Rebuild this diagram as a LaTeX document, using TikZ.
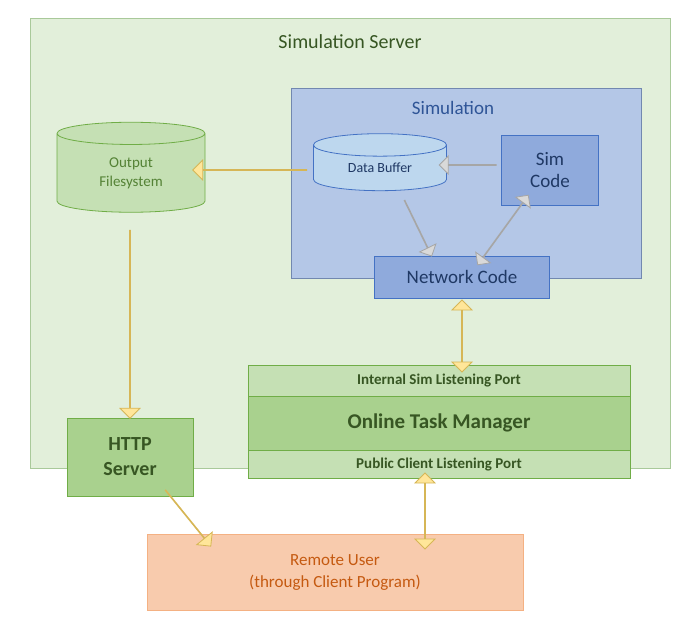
\documentclass[tikz,border=0pt]{standalone}
\usepackage{fontspec}
\setmainfont{Carlito}
\usetikzlibrary{shapes.geometric,shapes.arrows}
\definecolor{srvfill}{HTML}{E2EFDA}\definecolor{srvdraw}{HTML}{A9C99A}
\definecolor{dgreen}{HTML}{375623}\definecolor{mgreen}{HTML}{548235}
\definecolor{lgreen}{HTML}{C5E0B4}\definecolor{ggreen}{HTML}{A9D18E}\definecolor{bgreen}{HTML}{70AD47}
\definecolor{simfill}{HTML}{B4C7E7}\definecolor{simdraw}{HTML}{8FAADC}
\definecolor{bfill}{HTML}{8FAADC}\definecolor{bdraw}{HTML}{4472C4}\definecolor{dblue}{HTML}{2F5597}\definecolor{nblue}{HTML}{1F3864}
\definecolor{dbfill}{HTML}{BDD7EE}
\definecolor{yfill}{HTML}{FFE699}\definecolor{ydraw}{HTML}{D6B656}
\definecolor{gfill}{HTML}{D9D9D9}\definecolor{gdraw}{HTML}{A6A6A6}
\definecolor{ofill}{HTML}{F8CBAD}\definecolor{odraw}{HTML}{F4B183}\definecolor{otext}{HTML}{C55A11}
\tikzset{
 box/.style={draw, line width=0.8pt, inner sep=0pt},
 cyl/.style={cylinder, shape border rotate=90, aspect=0.35, draw, line width=0.8pt, inner sep=0pt},
 ya/.style={single arrow, draw=ydraw, fill=yfill, line width=0.8pt, minimum width=20pt, single arrow head extend=9pt, single arrow head indent=0pt, inner sep=0pt},
 yd/.style={double arrow, draw=ydraw, fill=yfill, line width=0.8pt, minimum width=20pt, double arrow head extend=9pt, inner sep=0pt},
 ga/.style={single arrow, draw=gdraw, fill=gfill, line width=0.8pt, minimum width=18pt, single arrow head extend=8pt, inner sep=0pt},
 gd/.style={double arrow, draw=gdraw, fill=gfill, line width=0.8pt, minimum width=18pt, double arrow head extend=8pt, inner sep=0pt},
}
\begin{document}
\begin{tikzpicture}[x=1pt,y=-1pt]
\useasboundingbox (0,0) rectangle (698,638);
\node[box, draw=srvdraw, fill=srvfill, minimum width=640pt, minimum height=450pt] (srv) at (350,243) {};
\node[text=dgreen, font=\fontsize{20}{24}\selectfont] (srvt) at (350,42) {Simulation Server};
\node[box, draw=simdraw!80!black, fill=simfill, minimum width=350pt, minimum height=190pt] (sim) at (466,183) {};
\node[text=dblue, font=\fontsize{19}{23}\selectfont] (simt) at (453,108) {Simulation};
\node[cyl, draw=bdraw, fill=dbfill, minimum width=133pt, minimum height=57pt, font=\fontsize{14}{17}\selectfont, text=nblue] (db) at (380,168) {Data Buffer};
\node[box, draw=bdraw, fill=bfill, minimum width=97pt, minimum height=70pt, align=center, text=nblue, font=\fontsize{19}{22}\selectfont] (sc) at (550,170) {Sim\\Code};
\node[box, draw=bdraw, fill=bfill, minimum width=175pt, minimum height=42pt, text=nblue, font=\fontsize{19}{23}\selectfont] (nc) at (462,277) {Network Code};
\node[cyl, draw=bgreen, fill=lgreen, minimum width=148pt, minimum height=90pt, align=center, text=mgreen, font=\fontsize{15}{19}\selectfont] (ofs) at (131,173) {Output\\Filesystem};
\node[box, draw=bgreen, fill=lgreen, minimum width=382pt, minimum height=31pt, text=dgreen, font=\bfseries\fontsize{15}{18}\selectfont] (isp) at (439,380.5) {Internal Sim Listening Port};
\node[box, draw=bgreen, fill=ggreen, minimum width=382pt, minimum height=54pt, text=dgreen, font=\bfseries\fontsize{21}{25}\selectfont] (otm) at (439,423) {Online Task Manager};
\node[box, draw=bgreen, fill=lgreen, minimum width=382pt, minimum height=28pt, text=dgreen, font=\bfseries\fontsize{15}{18}\selectfont] (pcp) at (439,464) {Public Client Listening Port};
\node[box, draw=bgreen, fill=ggreen, minimum width=126pt, minimum height=78pt, align=center, text=dgreen, font=\bfseries\fontsize{20}{25}\selectfont] (http) at (130,457) {HTTP\\Server};
\node[box, draw=odraw, fill=ofill, minimum width=376pt, minimum height=76pt, align=center, text=otext, font=\fontsize{17}{22}\selectfont] (ru) at (335,572) {Remote User\\(through Client Program)};
% arrows
\node[ya, rotate=180, minimum height=114pt] (a1) at (250,170) {};
\node[ga, rotate=180, minimum height=57pt] (a2) at (468,165) {};
\node[ga, rotate=-64, minimum height=62pt] (a3) at (418,228) {};
\node[gd, rotate=54, minimum height=86pt] (a4) at (503,230) {};
\node[yd, rotate=90, minimum height=72pt] (a5) at (462,336) {};
\node[ya, rotate=-90, minimum height=188pt] (a6) at (130,324) {};
\node[ya, rotate=-51, minimum height=72pt] (a7) at (188,518) {};
\node[yd, rotate=90, minimum height=76pt] (a8) at (425,511) {};
\end{tikzpicture}
\end{document}
